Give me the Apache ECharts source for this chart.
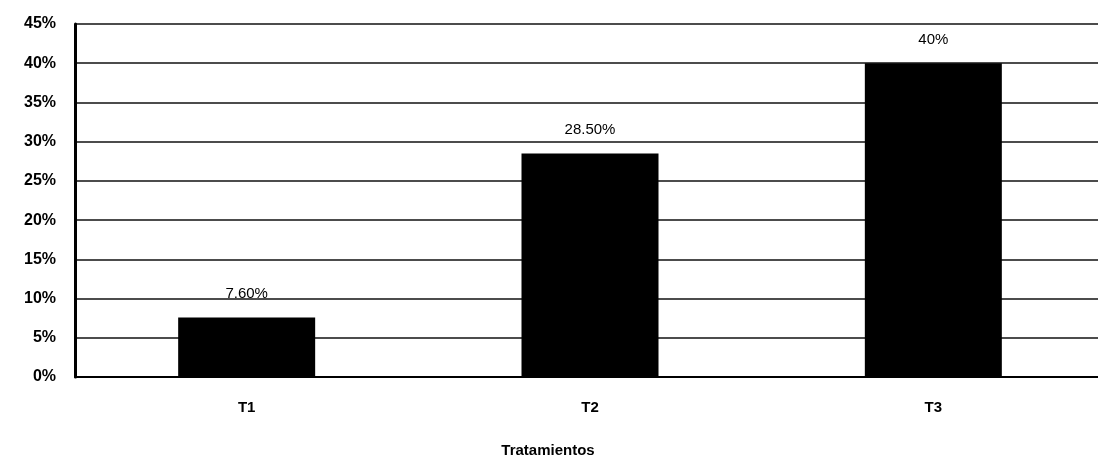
<!DOCTYPE html>
<html>
<head>
<meta charset="utf-8">
<script src="https://cdn.jsdelivr.net/npm/echarts@6/dist/echarts.min.js"></script>
<style>html,body{margin:0;padding:0;background:#fff}#c{width:1098px;height:460px}</style>
</head>
<body>
<div id="c"></div>
<script>
const categories = ['T1', 'T2', 'T3'];
const values = [7.6, 28.5, 40];
const valueLabels = ['7.60%', '28.50%', '40%'];
const xAxisTitle = 'Tratamientos';

const chart = echarts.init(document.getElementById('c'), null, {renderer: 'canvas'});
chart.setOption({
  animation: false,
  backgroundColor: '#fff',
  grid: {left: 75, width: 1030, top: 24, bottom: 83, containLabel: false, outerBoundsMode: 'none'},
  xAxis: {
    type: 'category',
    data: categories,
    name: xAxisTitle,
    nameLocation: 'middle',
    nameGap: 66,
    nameTextStyle: {color: '#000', fontSize: 15, fontWeight: 'bold', fontFamily: 'Liberation Sans', letterSpacing: 1, padding: [0, 84, 0, 0]},
    axisLine: {lineStyle: {color: '#000', width: 2}},
    axisTick: {show: false},
    axisLabel: {color: '#000', fontSize: 15, fontWeight: 'bold', fontFamily: 'Liberation Sans', margin: 23}
  },
  yAxis: {
    type: 'value',
    min: 0, max: 45, interval: 5,
    axisLine: {show: true, lineStyle: {color: '#000', width: 3}},
    axisTick: {show: false},
    splitLine: {lineStyle: {color: '#111', width: 1.5}},
    axisLabel: {color: '#000', fontSize: 16, fontWeight: 'bold', fontFamily: 'Liberation Sans', margin: 19, formatter: '{value}%'}
  },
  series: [{
    type: 'bar',
    data: values,
    barWidth: 137,
    itemStyle: {color: '#000'},
    label: {
      show: true, position: 'top', distance: 16,
      color: '#000', fontSize: 15, fontFamily: 'Liberation Sans',
      formatter: p => valueLabels[p.dataIndex]
    }
  }]
});
</script>
</body>
</html>
